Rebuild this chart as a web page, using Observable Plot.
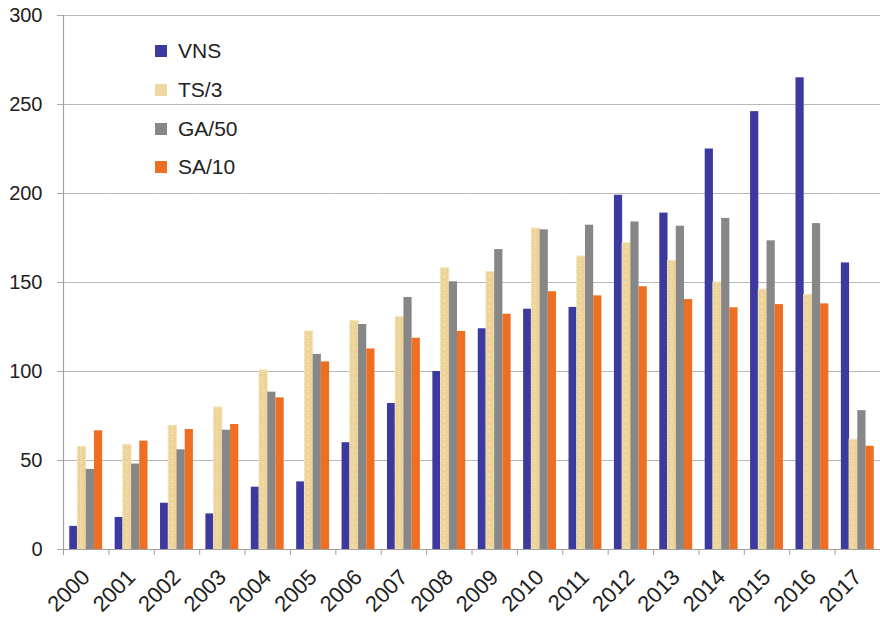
<!DOCTYPE html>
<html><head><meta charset="utf-8">
<script src="https://cdn.jsdelivr.net/npm/d3@7"></script>
<script src="https://cdn.jsdelivr.net/npm/@observablehq/plot@0.6"></script>
<style>
body{margin:0;background:#fff;font-family:"Liberation Sans",Arial,sans-serif}
#wrap{position:relative;width:880px;height:619px}
#legend{position:absolute;left:155px;top:32px}
.item{display:flex;align-items:center;height:38.7px;font-size:21px;color:#222}
.sw{width:12px;height:12px;margin-right:11px}
</style></head><body><div id="wrap"><div id="legend"></div></div>
<script>
const years = ["2000","2001","2002","2003","2004","2005","2006","2007","2008","2009","2010","2011","2012","2013","2014","2015","2016","2017"];
const seriesNames = ["VNS","TS/3","GA/50","SA/10"];
const vns = [13,18,26,20,35,38,60,82,100,124,135,136,199,189,225,246,265,161];
const ts  = [57.5,58.6,69.5,79.8,100.6,122.5,128.3,130.5,158,155.8,180.3,164.6,172,162,150,146,143,61.6];
const ga  = [45,48,56,67,88.4,109.6,126.4,141.6,150.4,168.5,179.6,182.2,184,181.6,186,173.4,183.1,78];
const sa  = [66.7,60.9,67.4,70.2,85.2,105.4,112.7,118.7,122.5,132.2,144.8,142.5,147.6,140.4,135.8,137.6,138,58];
const yTicks = [0,50,100,150,200,250,300];
const colors = ["#3d3a9f","url(#tsTex)","#878787","#ef6f22"];
const swatchColors = ["#3d3a9f","#efd7a0","#878787","#ef6f22"];

const seriesValues = [vns, ts, ga, sa];
const rows = years.flatMap((y, i) => seriesNames.map((s, j) => ({year: y, series: s, value: seriesValues[j][i]})));

const W = 880, ML = 63, MR = 0;
const step = (W - ML - MR) / years.length;

const chart = Plot.plot({
  width: W, height: 619,
  marginTop: 15, marginBottom: 70, marginLeft: ML, marginRight: MR,
  style: {fontFamily: '"Liberation Sans", Arial, sans-serif', fontSize: "20px", color: "#222", background: "transparent"},
  fx: {domain: years, padding: 0, round: false, label: null},
  x: {domain: seriesNames, paddingInner: 0, paddingOuter: 0.76, round: false, axis: null},
  y: {domain: [0, 300], label: null},
  color: {domain: seriesNames, range: colors},
  marks: [
    Plot.gridY(yTicks, {stroke: "#b8b8b8", strokeOpacity: 1, strokeWidth: 1.2}),
    Plot.axisY(yTicks, {tickSize: 6, tickPadding: 15, stroke: "#a8a8a8", fontSize: 20, fill: "#222", label: null}),
    Plot.barY(rows, {fx: "year", x: "series", y: "value", fill: "series", stroke: d => d.series === "TS/3" ? "#f3e2b6" : "none", strokeWidth: 1}),
    Plot.ruleY([0], {stroke: "#a0a0a0", strokeWidth: 1.2}),
    Plot.frame({anchor: "left", facet: "super", stroke: "#a0a0a0", strokeWidth: 1.2}),
    Plot.axisFx({anchor: "bottom", tickSize: 6, tickFormat: () => "", dx: -step / 2, stroke: "#a0a0a0", label: null}),
    Plot.axisFx({anchor: "bottom", tickSize: 0, tickRotate: -45, tickPadding: 24, dx: 0, fontSize: 22, fill: "#222", label: null})
  ]
});

// texture for TS/3
const defs = d3.select(chart).insert("defs", ":first-child");
const pat = defs.append("pattern").attr("id", "tsTex").attr("patternUnits", "userSpaceOnUse").attr("width", 6).attr("height", 6);
pat.append("rect").attr("width", 6).attr("height", 6).attr("fill", "#efd69c");
[[0,0,"#e3c383"],[3,1,"#f4e2b5"],[1,3,"#dfbe7c"],[4,4,"#e6c98a"],[2,5,"#f3dfb0"],[5,2,"#e1c180"]].forEach(([x,y,c]) =>
  pat.append("rect").attr("x", x).attr("y", y).attr("width", 1).attr("height", 1).attr("fill", c));

document.getElementById("wrap").prepend(chart);
chart.style.position = "absolute"; chart.style.left = "0"; chart.style.top = "0";

const legend = document.getElementById("legend");
seriesNames.forEach((s, j) => {
  const it = document.createElement("div"); it.className = "item";
  const sw = document.createElement("div"); sw.className = "sw"; sw.style.background = swatchColors[j];
  const t = document.createElement("span"); t.textContent = s;
  it.append(sw, t); legend.append(it);
});
</script></body></html>
